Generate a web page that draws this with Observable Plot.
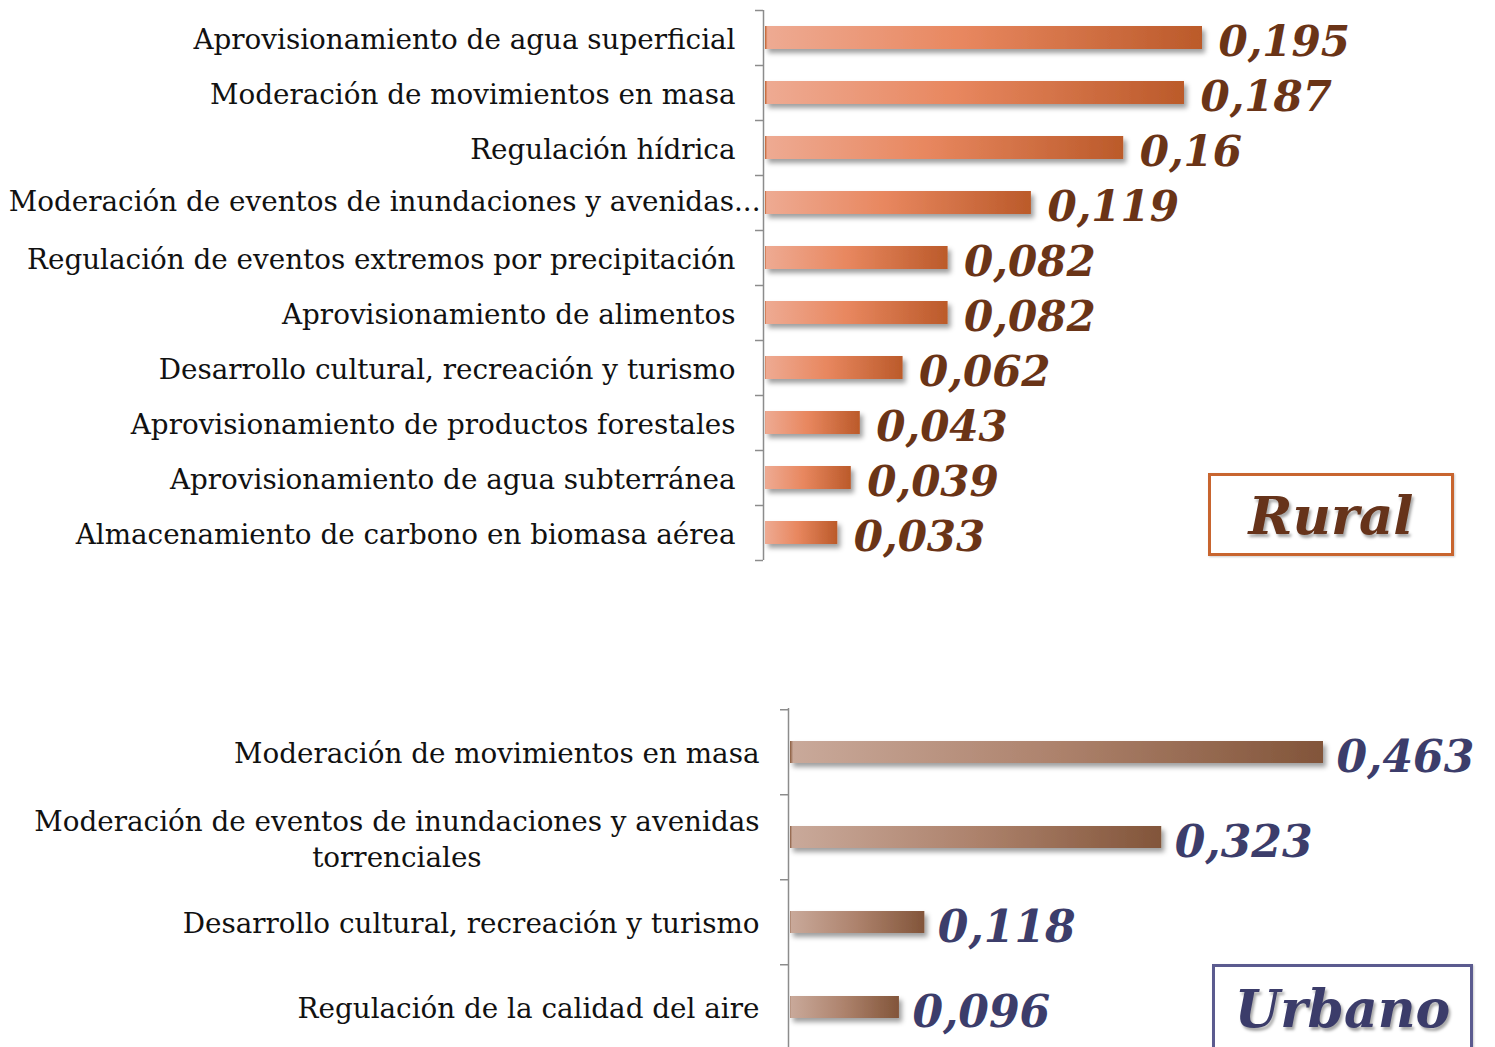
<!DOCTYPE html>
<html><head><meta charset="utf-8">
<script src="https://cdn.jsdelivr.net/npm/d3@7"></script>
<script src="https://cdn.jsdelivr.net/npm/@observablehq/plot@0.6"></script>
<style>
html,body{margin:0;padding:0;background:#fff;overflow:hidden;width:1495px;height:1047px;}
#wrap{position:relative;width:1495px;height:1047px;overflow:hidden;}
#rural{position:absolute;left:0;top:0;}
#urban{position:absolute;left:0;top:600px;}
.box{position:absolute;box-sizing:border-box;display:flex;align-items:center;justify-content:center;font-family:"DejaVu Serif";font-weight:bold;font-style:italic;font-size:53px;text-shadow:2px 3px 3px rgba(0,0,0,0.35);background:#fff;}
#ruralBox{left:1208px;top:473px;width:246px;height:83px;border:3px solid #C8652F;color:#66331A;box-shadow:1px 1px 2px rgba(0,0,0,0.2);}
#urbanBox{left:1212px;top:964px;width:261px;height:100px;border:3px solid #5B5B8F;color:#3B3C6A;align-items:flex-start;padding-top:11px;font-size:52px;box-shadow:1px 1px 2px rgba(0,0,0,0.2);}
</style></head><body>
<div id="wrap"><div id="rural"></div><div id="urban"></div>
<div class="box" id="ruralBox">Rural</div><div class="box" id="urbanBox">Urbano</div></div>
<script>
// ---------- data ----------
const ruralCategories = [
  "Aprovisionamiento de agua superficial",
  "Moderación de movimientos en masa",
  "Regulación hídrica",
  "Moderación de eventos de inundaciones y avenidas torrenciales",
  "Regulación de eventos extremos por precipitación",
  "Aprovisionamiento de alimentos",
  "Desarrollo cultural, recreación y turismo",
  "Aprovisionamiento de productos forestales",
  "Aprovisionamiento de agua subterránea",
  "Almacenamiento de carbono en biomasa aérea"
];
const ruralLabels = [
  "Aprovisionamiento de agua superficial",
  "Moderación de movimientos en masa",
  "Regulación hídrica",
  "Moderación de eventos de inundaciones y avenidas...",
  "Regulación de eventos extremos por precipitación",
  "Aprovisionamiento de alimentos",
  "Desarrollo cultural, recreación y turismo",
  "Aprovisionamiento de productos forestales",
  "Aprovisionamiento de agua subterránea",
  "Almacenamiento de carbono en biomasa aérea"
];
const ruralValues = [0.195, 0.187, 0.16, 0.119, 0.082, 0.082, 0.062, 0.043, 0.039, 0.033];

const urbanCategories = [
  "Moderación de movimientos en masa",
  "Moderación de eventos de inundaciones y avenidas torrenciales",
  "Desarrollo cultural, recreación y turismo",
  "Regulación de la calidad del aire"
];
const urbanLabels = [
  "Moderación de movimientos en masa",
  "Moderación de eventos de inundaciones y avenidas\ntorrenciales",
  "Desarrollo cultural, recreación y turismo",
  "Regulación de la calidad del aire"
];
const urbanValues = [0.463, 0.323, 0.118, 0.096];

// ---------- helpers ----------
const fmt = v => String(v).replace(".", ",");
const LABEL_FONT = "DejaVu Serif";
const LABEL_SIZE = 27.8;
const canvas = document.createElement("canvas");
const ctx = canvas.getContext("2d");
function textWidth(s, font) { ctx.font = font; return ctx.measureText(s).width; }

function defsMark(id, stops) {
  return () => {
    const defs = d3.create("svg:defs");
    const g = defs.append("linearGradient").attr("id", id).attr("x1", "0%").attr("x2", "100%").attr("y1", "0%").attr("y2", "0%");
    stops.forEach(([o, c]) => g.append("stop").attr("offset", o).attr("stop-color", c));
    const f = defs.append("filter").attr("id", id + "Shadow").attr("x", "-10%").attr("y", "-30%").attr("width", "130%").attr("height", "200%");
    f.append("feDropShadow").attr("dx", 3).attr("dy", 4).attr("stdDeviation", 2.5).attr("flood-color", "#000").attr("flood-opacity", 0.38);
    return defs.node();
  };
}

function chart({cats, labels, values, height, marginTop, marginBottom, marginLeft, marginRight, pInner, gradId, stops, valueColor, valueSize, valueDx, labelDx, special}) {
  const data = cats.map((c, i) => ({name: c, label: labels[i], value: values[i], i}));
  const n = cats.length;
  const pOuter = pInner / 2;
  const step = (height - marginTop - marginBottom) / (n - pInner + 2 * pOuter);
  const marks = [
    defsMark(gradId, stops),
    Plot.barX(data, {y: "name", x: "value", fill: `url(#${gradId})`, insetLeft: 2}),
    Plot.ruleX([0], {stroke: "#8c8c8c", strokeWidth: 1.5}),
    Plot.axisY({tickSize: 8, tickFormat: () => "", dy: -step / 2, stroke: "#8c8c8c", strokeWidth: 1.5, label: null}),
    Plot.axisY([cats[n - 1]], {tickSize: 8, tickFormat: () => "", dy: step / 2, stroke: "#8c8c8c", strokeWidth: 1.5, label: null}),
    Plot.text(data, {filter: d => !special || !special(d), y: "name", text: "label", frameAnchor: "left", textAnchor: "end", dx: labelDx, dy: -1,
      fontFamily: LABEL_FONT, fontSize: LABEL_SIZE, fill: "#111", lineHeight: 1.3}),
    Plot.text(data, {y: "name", x: "value", text: d => fmt(d.value), textAnchor: "start", dx: valueDx, dy: 5,
      fontFamily: "DejaVu Serif", fontWeight: "bold", fontStyle: "italic", fontSize: valueSize, fill: valueColor})
  ];
  if (special) marks.push(...special.marks(data));
  const svg = Plot.plot({
    width: 1495, height, marginTop, marginBottom, marginLeft, marginRight,
    x: {domain: [0, d3.max(values)], axis: null},
    y: {domain: cats, paddingInner: pInner, paddingOuter: pOuter, label: null},
    style: {background: "transparent", overflow: "visible"},
    marks
  });
  svg.querySelectorAll('g[aria-label="bar"]').forEach(g => g.setAttribute("filter", `url(#${gradId}Shadow)`));
  return svg;
}

// ---------- rural ----------
const ruralSpecial = d => d.i === 3;
ruralSpecial.marks = data => [
  Plot.text(data, {filter: d => d.i === 3, y: "name", text: "label", frameAnchor: "left", textAnchor: "end", dx: -3, dy: -1,
    fontFamily: LABEL_FONT, fontSize: LABEL_SIZE, fill: "#111"})
];
document.getElementById("rural").appendChild(chart({
  cats: ruralCategories, labels: ruralLabels, values: ruralValues,
  height: 600, marginTop: 10, marginBottom: 40, marginLeft: 763, marginRight: 293,
  pInner: 0.58, gradId: "gradRural",
  stops: [["0%", "#C0602E"], ["0.6%", "#EEAA92"], ["45%", "#E8875F"], ["100%", "#BB5A2A"]],
  valueColor: "#6A3417", valueSize: 42, valueDx: 16, labelDx: -28, special: ruralSpecial
}));

// ---------- urban ----------
const line1 = urbanLabels[1].split("\n")[0];
const w1 = textWidth(line1, `${LABEL_SIZE}px "${LABEL_FONT}"`);
const urbanSpecial = d => d.i === 1;
urbanSpecial.marks = data => [
  Plot.text(data, {filter: d => d.i === 1, y: "name", text: "label", frameAnchor: "left", textAnchor: "middle", dx: -29 - w1 / 2,
    fontFamily: LABEL_FONT, fontSize: LABEL_SIZE, fill: "#111", lineHeight: 1.3})
];
document.getElementById("urban").appendChild(chart({
  cats: urbanCategories, labels: urbanLabels, values: urbanValues,
  height: 450, marginTop: 108, marginBottom: 0, marginLeft: 788, marginRight: 172,
  pInner: 0.743, gradId: "gradUrban",
  stops: [["0%", "#8A5B3E"], ["0.6%", "#C9A99A"], ["50%", "#AD826C"], ["100%", "#82553A"]],
  valueColor: "#3C3D6B", valueSize: 44, valueDx: 13, labelDx: -29, special: urbanSpecial
}));
</script></body></html>
